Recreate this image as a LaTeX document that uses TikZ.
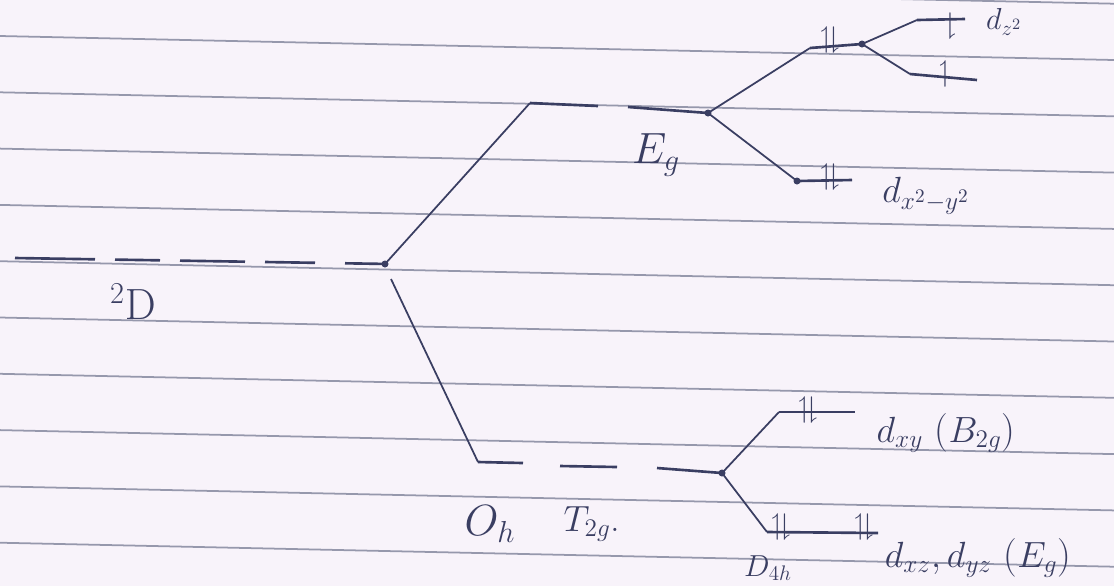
\documentclass[tikz,border=0pt]{standalone}
\usepackage{amsmath,amssymb}
\usetikzlibrary{arrows.meta,calc,positioning}
\definecolor{paper}{RGB}{248,243,250}
\definecolor{ruleln}{RGB}{150,152,172}
\definecolor{ink}{RGB}{58,62,98}

\begin{document}
\begin{tikzpicture}[x=0.02cm,y=-0.02cm,
    rule/.style={ruleln,line width=1pt},
    lvl/.style={ink,line width=1.5pt},
    link/.style={ink,line width=1pt},
    lab/.style={text=ink,inner sep=0pt,font=\fontsize{22}{24}\selectfont},
    elec/.style={text=ink,inner sep=0pt,font=\fontsize{17}{19}\selectfont}]
  \useasboundingbox (0,0) rectangle (1114,586);
  \clip (0,0) rectangle (1114,586);
  \fill[paper] (0,0) rectangle (1114,586);
  % ruled paper
  \foreach \k in {-1,...,9}{
    \draw[rule] (0,{36+56.3*\k}) -- (1114,{60+56.3*\k});
  }
  % free ion level
  \coordinate (dfree) at (385,264);
  \coordinate (dlow) at (391,279);
  \foreach \a/\b in {15/95,115/160,180/245,265/315,345/385}{
    \draw[lvl] (\a,{258+0.016*(\a-15)}) -- (\b,{258+0.016*(\b-15)});
  }
  \node[lab,font=\fontsize{24}{26}\selectfont] (termD) at (133,302) {$^{2}\mathrm{D}$};
  % octahedral levels
  \coordinate (egL) at (530,103);
  \coordinate (eg) at (708,113);
  \coordinate (tL) at (478,462);
  \coordinate (t) at (722,473);
  \draw[lvl] (egL) -- (598,106);
  \draw[lvl] (628,107) -- (eg);
  \draw[lvl] (tL) -- (523,463);
  \draw[lvl] (560,466) -- (617,467);
  \draw[lvl] (657,468) -- (t);
  \draw[link] (dfree) -- (egL);
  \draw[link] (dlow) -- (tL);
  \node[lab,font=\fontsize{24}{26}\selectfont] (Eg) at (656,155) {$E_g$};
  \node[lab,font=\fontsize{26}{28}\selectfont] (Oh) at (490,524) {$O_h$};
  \node[lab] (T2g) at (592,524) {$T_{2g}$.};
  % tetragonal splitting of Eg
  \coordinate (a1) at (810,48);
  \coordinate (a2) at (862,44);
  \coordinate (a3) at (917,20);
  \coordinate (a4) at (965,19);
  \coordinate (a5) at (910,74);
  \coordinate (a6) at (977,80);
  \coordinate (b1) at (797,181);
  \coordinate (b2) at (852,180);
  \draw[link] (eg) -- (a1);
  \draw[lvl] (a1) -- (a2);
  \draw[link] (a2) -- (a3);
  \draw[lvl] (a3) -- (a4);
  \draw[link] (a2) -- (a5);
  \draw[lvl] (a5) -- (a6);
  \draw[link] (eg) -- (b1);
  \draw[lvl] (b1) -- (b2);
  \node[elec] (e1) at (830,40) {$\upharpoonleft\!\downharpoonright$};
  \node[elec] (e2) at (950,26) {$\downharpoonright$};
  \node[elec] (e3) at (945,74) {$\upharpoonleft$};
  \node[elec] (e4) at (830,177) {$\upharpoonleft\!\downharpoonright$};
  \node[lab,font=\fontsize{18}{20}\selectfont] (dz2) at (1004,22) {$d_{z^2}$};
  \node[lab] (dx2y2) at (926,196) {$d_{x^2-y^2}$};
  % tetragonal splitting of T2g
  \coordinate (c1) at (779,412);
  \coordinate (c2) at (855,412);
  \coordinate (c3) at (767,532);
  \coordinate (c4) at (878,533);
  \draw[link] (t) -- (c1);
  \draw[lvl] (c1) -- (c2);
  \draw[link] (t) -- (c3);
  \draw[lvl] (c3) -- (c4);
  \node[elec] (e5) at (808,410) {$\upharpoonleft\!\downharpoonright$};
  \node[elec] (e6) at (781,527) {$\upharpoonleft\!\downharpoonright$};
  \node[elec] (e7) at (864,527) {$\upharpoonleft\!\downharpoonright$};
  \node[lab] (dxy) at (946,433) {$d_{xy}$ ($B_{2g}$)};
  \node[lab] (dxz) at (978,558) {$d_{xz}, d_{yz}$ ($E_g$)};
  \node[lab,font=\fontsize{18}{20}\selectfont] (D4h) at (768,568) {$D_{4h}$};
  % branch points
  \foreach \p in {dfree,eg,t,a2,b1}{
    \fill[ink] (\p) circle (3.5);
  }
\end{tikzpicture}
\end{document}
